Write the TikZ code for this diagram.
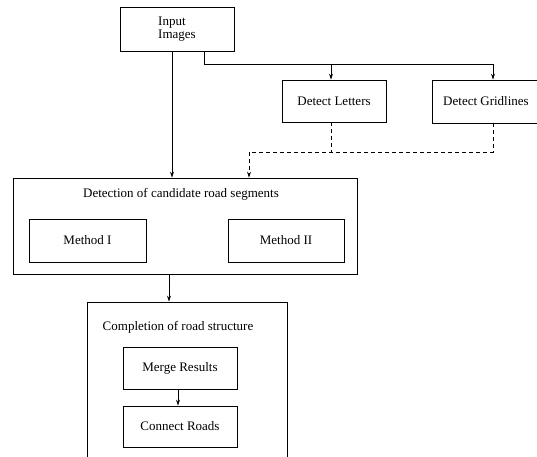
\documentclass[tikz,border=0pt]{standalone}
\usepackage{fontspec}
\setmainfont{Liberation Serif}
\usetikzlibrary{arrows.meta,calc}
\begin{document}
\begin{tikzpicture}[x=1pt,y=-1pt,
  box/.style={draw, line width=0.8pt, inner sep=0pt, font=\fontsize{13}{12.5}\selectfont},
  lbl/.style={inner sep=0pt, font=\fontsize{13}{12.5}\selectfont},
  ln/.style={line width=0.8pt},
  arr/.style={ln, -{Stealth[length=6pt,width=4pt]}},
  dsh/.style={dash pattern=on 4pt off 3pt}]
\useasboundingbox (0,0) rectangle (537,456);
\clip (0,0) rectangle (537,456);
\node[box,minimum width=114pt,minimum height=44pt,align=left] (inp) at (177,29) {Input\\Images};
\node[box,minimum width=104pt,minimum height=42pt] (dl) at (334,101) {Detect Letters};
\node[box,minimum width=108pt,minimum height=43pt] (dg) at (486,101.5) {Detect Gridlines};
\node[box,minimum width=344pt,minimum height=96pt] (det) at (185,226) {};
\node[lbl] (dett) at (181,194) {Detection of candidate road segments};
\node[box,minimum width=117pt,minimum height=43pt] (m1) at (87.5,240.5) {Method I};
\node[box,minimum width=116pt,minimum height=43pt] (m2) at (286,240.5) {Method II};
\node[box,minimum width=200pt,minimum height=178pt] (comp) at (187,391) {};
\node[lbl] (compt) at (178,327) {Completion of road structure};
\node[box,minimum width=114pt,minimum height=42pt] (merge) at (180,368) {Merge Results};
\node[box,minimum width=114pt,minimum height=41pt] (conn) at (180,426.5) {Connect Roads};
\coordinate (split) at (493,64);
\coordinate (djoin) at (493,152);
\coordinate (dturn) at (249,152);
\draw[arr] ([xshift=-5pt]inp.south) -- ([xshift=-5pt]inp.south |- det.north);
\draw[ln] ([xshift=27pt]inp.south) |- (split);
\draw[arr] (split) -- (split |- dg.north);
\draw[arr] ([xshift=-3pt]dl.north |- split) -- ([xshift=-3pt]dl.north);
\draw[ln,dsh] ([xshift=-3pt]dl.south) -- ([xshift=-3pt]dl.south |- djoin);
\draw[arr,dsh] (djoin |- dg.south) -- (djoin) -- (dturn) -- (dturn |- det.north);
\draw[arr] ([xshift=-16pt]det.south) -- ([xshift=-16pt]det.south |- comp.north);
\draw[arr] ([xshift=-2pt]merge.south) -- ([xshift=-2pt]conn.north);
\end{tikzpicture}
\end{document}
